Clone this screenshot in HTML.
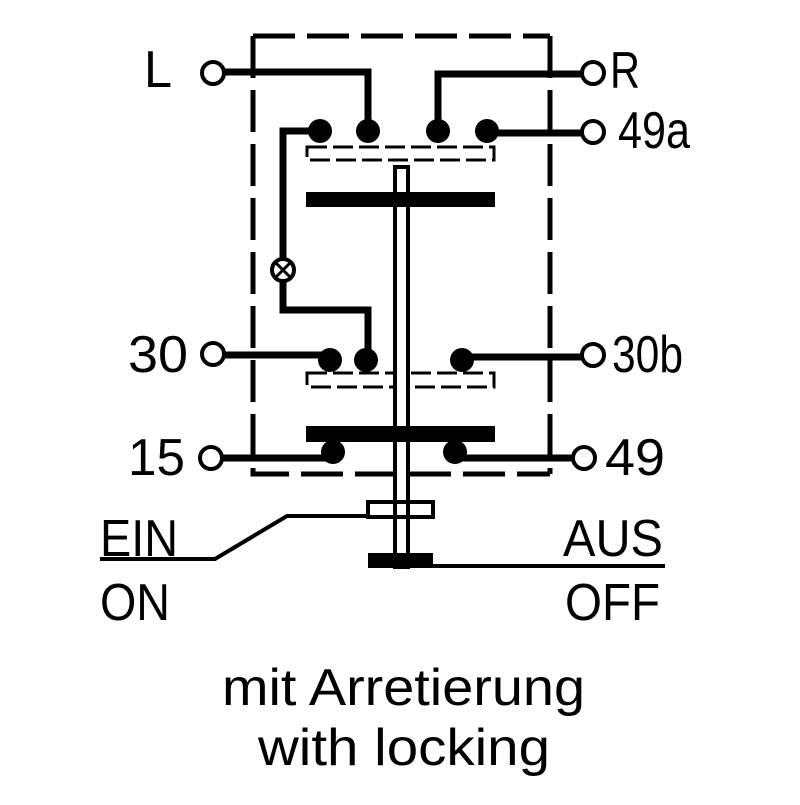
<!DOCTYPE html>
<html><head><style>html,body{margin:0;padding:0;background:#fff}</style></head>
<body>
<svg width="800" height="800" viewBox="0 0 800 800" xmlns="http://www.w3.org/2000/svg" font-family="Liberation Sans, sans-serif">
<rect width="800" height="800" fill="#fff"/>
<!-- dashed frame -->
<g stroke="#000" stroke-width="5" fill="none" stroke-dasharray="42 12">
<path d="M253 36 H550"/>
<path d="M253 36 V474 H550"/>
<path d="M550 36 V474"/>
</g>
<!-- wires -->
<g stroke="#000" stroke-width="7" fill="none">
<path d="M225 72 H368 V131"/>
<path d="M581 74 H438 V131"/>
<path d="M487 133 H581"/>
<path d="M320 131 H283 V258 M283 282 V310 H368 V358"/>
<path d="M225 355 H330"/>
<path d="M462 357 H581"/>
<path d="M222 458 H333"/>
<path d="M455 458 H572"/>
</g>
<!-- dashed contact rects -->
<g stroke="#000" stroke-width="3" fill="none" stroke-dasharray="20 6">
<rect x="307" y="147" width="187" height="13"/>
<rect x="307" y="373" width="187" height="14"/>
</g>
<!-- shaft -->
<rect x="395" y="167" width="13" height="400" fill="#fff" stroke="#000" stroke-width="4"/>
<!-- bars -->
<rect x="306" y="192" width="189" height="15" fill="#000"/>
<rect x="306" y="426" width="189" height="16" fill="#000"/>
<!-- dots -->
<g fill="#000">
<circle cx="320" cy="131" r="12"/><circle cx="368" cy="131" r="12"/>
<circle cx="438" cy="131" r="12"/><circle cx="487" cy="131" r="12"/>
<circle cx="330" cy="360" r="12"/><circle cx="366" cy="360" r="12"/>
<circle cx="462" cy="360" r="12"/>
<circle cx="333" cy="452" r="12"/><circle cx="455" cy="452" r="12"/>
</g>
<!-- lamp -->
<circle cx="283" cy="270" r="11" fill="#fff" stroke="#000" stroke-width="4"/>
<path d="M276 263 L290 277 M290 263 L276 277" stroke="#000" stroke-width="3"/>
<!-- terminals -->
<g fill="#fff" stroke="#000" stroke-width="4">
<circle cx="213" cy="73" r="11"/><circle cx="593" cy="73" r="11"/>
<circle cx="593" cy="132" r="11"/>
<circle cx="213" cy="354" r="11"/><circle cx="593" cy="355" r="11"/>
<circle cx="211" cy="458" r="11"/><circle cx="584" cy="458" r="11"/>
</g>
<!-- actuator -->
<rect x="368" y="502" width="65" height="15" fill="none" stroke="#000" stroke-width="4"/>
<path d="M395 502 V517 M408 502 V517" stroke="#000" stroke-width="4"/>
<rect x="368" y="553" width="65" height="15" fill="#000"/>
<path d="M368 516 H287 L215 559 H100" stroke="#000" stroke-width="4" fill="none"/>
<path d="M433 566 H665" stroke="#000" stroke-width="4" fill="none"/>
<!-- labels -->
<g font-size="52" fill="#000">
<text x="144" y="87" textLength="28" lengthAdjust="spacingAndGlyphs">L</text>
<text x="610" y="88" textLength="30" lengthAdjust="spacingAndGlyphs">R</text>
<text x="618" y="148" textLength="72" lengthAdjust="spacingAndGlyphs">49a</text>
<text x="128" y="372" textLength="60" lengthAdjust="spacingAndGlyphs">30</text>
<text x="612" y="372" textLength="71" lengthAdjust="spacingAndGlyphs">30b</text>
<text x="128" y="475" textLength="57" lengthAdjust="spacingAndGlyphs">15</text>
<text x="605" y="475" textLength="60" lengthAdjust="spacingAndGlyphs">49</text>
<text x="100" y="556" textLength="78" lengthAdjust="spacingAndGlyphs">EIN</text>
<text x="100" y="620" textLength="70" lengthAdjust="spacingAndGlyphs">ON</text>
<text x="563" y="556" textLength="100" lengthAdjust="spacingAndGlyphs">AUS</text>
<text x="565" y="620" textLength="95" lengthAdjust="spacingAndGlyphs">OFF</text>
<text x="222" y="705" textLength="363" lengthAdjust="spacingAndGlyphs">mit Arretierung</text>
<text x="258" y="765" textLength="292" lengthAdjust="spacingAndGlyphs">with locking</text>
</g>
</svg>
</body></html>
